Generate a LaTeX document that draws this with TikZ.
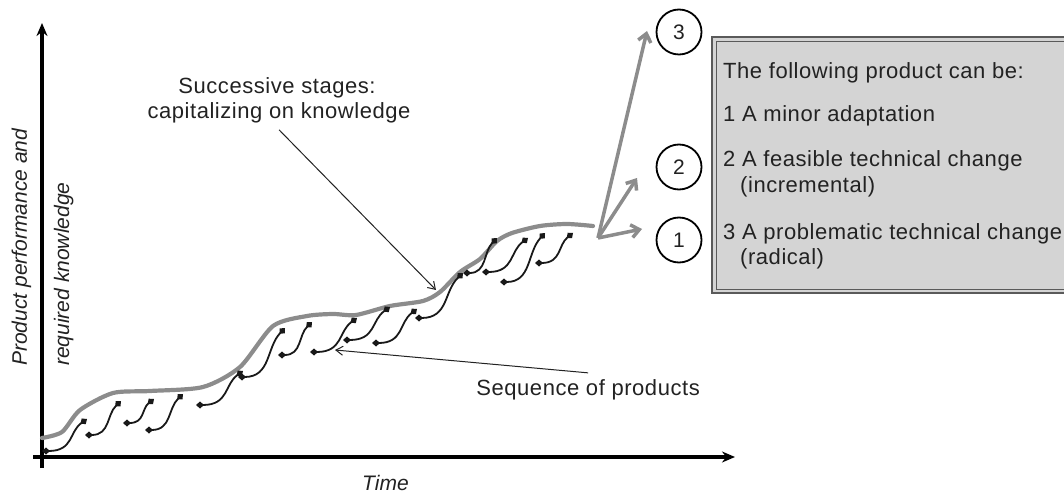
\documentclass[tikz,border=0pt]{standalone}
\usepackage{fontspec}
\setsansfont{Liberation Sans}
\newfontfamily\spaced{Liberation Sans}[LetterSpace=2.5]
\usetikzlibrary{arrows.meta}
\definecolor{gline}{HTML}{8C8C8C}
\definecolor{txt}{HTML}{222222}
\definecolor{boxfill}{HTML}{D4D4D4}
\definecolor{boxline}{HTML}{5A5A5A}
\begin{document}
\begin{tikzpicture}[x=1pt,y=-1pt,
  lbl/.style={inner sep=0pt, text=txt, font=\spaced\fontsize{22}{26}\selectfont, anchor=base west},
  ilbl/.style={inner sep=0pt, text=txt, font=\sffamily\itshape\fontsize{21}{25}\selectfont, anchor=base west},
  axis/.style={line width=3.5pt, -{Stealth[length=13pt,width=11pt]}},
  env/.style={gline, line width=4.2pt, line join=round, line cap=round},
  fanarrow/.style={gline, line width=3.5pt, -{Straight Barb[length=8pt,width=13pt]}},
  prod/.style={line width=1.8pt, black!90, {Turned Square[length=8pt,width=7pt]}-{Turned Square[length=8pt,width=7pt]}},
  pointer/.style={line width=1pt, txt, -{Straight Barb[length=7pt,width=9pt]}},
  num/.style={circle, draw, line width=1.8pt, minimum size=45pt, inner sep=0pt, font=\sffamily\fontsize{21}{25}\selectfont, text=txt}
]
\useasboundingbox (0,0) rectangle (1064,494);
\clip (0,0) rectangle (1064,494);

% axes
\coordinate (yb) at (42,468);
\coordinate (yt) at (42,23);
\coordinate (xl) at (33,457);
\coordinate (xr) at (735,457);
\draw[axis] (yb) -- (yt);
\draw[axis] (xl) -- (xr);

% axis labels
\node[ilbl, rotate=90] (ylab1) at (27,366) {Product performance and};
\node[ilbl, rotate=90] (ylab2) at (69,366) {required knowledge};
\node[ilbl] (tlab) at (362,490) {Time};

% envelope curve
\draw[env] plot[smooth, tension=0.45] coordinates {
 (42,438) (62,432) (80,410) (113,393) (150,391) (203,387) (240,367)
 (273,326) (307,316) (333,314) (356,315) (390,306) (423,301) (440,292)
 (460,272) (480,259) (497,241) (512,233) (540,226) (567,224) (593,226)};

% product curves
\foreach \xa/\ya/\xb/\yb in {
  42/451/87/419, 85/435/121/401, 123/423/154/399, 145/430/183/394,
  196/405/243/371, 238/377/285/328, 278/355/312/322, 310/352/357/318,
  343/340/390/307, 372/343/417/309, 415/318/463/273, 463/273/497/238,
  482/272/528/238, 500/282/545/233, 535/263/573/233}{
  \draw[prod] (\xa,\ya) .. controls ({\xa+0.7*(\xb-\xa)},\ya) and ({\xb-0.4*(\xb-\xa)},{\yb+0.4*(\ya-\yb)}) .. (\xb,\yb);
}

% fan of next products
\coordinate (fan) at (598,238);
\coordinate (t1) at (642,229);
\coordinate (t2) at (637,178);
\coordinate (t3) at (647,31);
\draw[fanarrow] (fan) -- (t1);
\draw[fanarrow] (fan) -- (t2);
\draw[fanarrow] (fan) -- (t3);

\node[num] (c3) at (679,32) {3};
\node[num] (c2) at (679,167) {2};
\node[num] (c1) at (679,240) {1};

% annotation texts
\node[lbl, anchor=base] (s1) at (277,94) {Successive stages:};
\node[lbl, anchor=base, inner sep=6pt] (s2) at (279,119) {capitalizing on knowledge};
\coordinate (stip) at (436,290);
\draw[pointer] (s2.south) -- (stip);

\node[lbl, anchor=base east, inner sep=6pt] (seq) at (706,395) {Sequence of products};
\coordinate (qtip) at (335,350);
\draw[pointer] (seq.north) -- (qtip);

% box
\draw[boxline, line width=1.2pt, fill=boxfill] (712,37) rectangle (1085,293);
\draw[boxline, line width=0.9pt] (716,41) rectangle (1085,289);
\node[lbl] (b0) at (723,79) {The following product can be:};
\node[lbl] (b1) at (723,122) {1 A minor adaptation};
\node[lbl] (b2) at (723,167) {2 A feasible technical change};
\node[lbl] (b3) at (740,193) {(incremental)};
\node[lbl] (b4) at (723,239) {3 A problematic technical change};
\node[lbl] (b5) at (740,264) {(radical)};
\end{tikzpicture}
\end{document}
